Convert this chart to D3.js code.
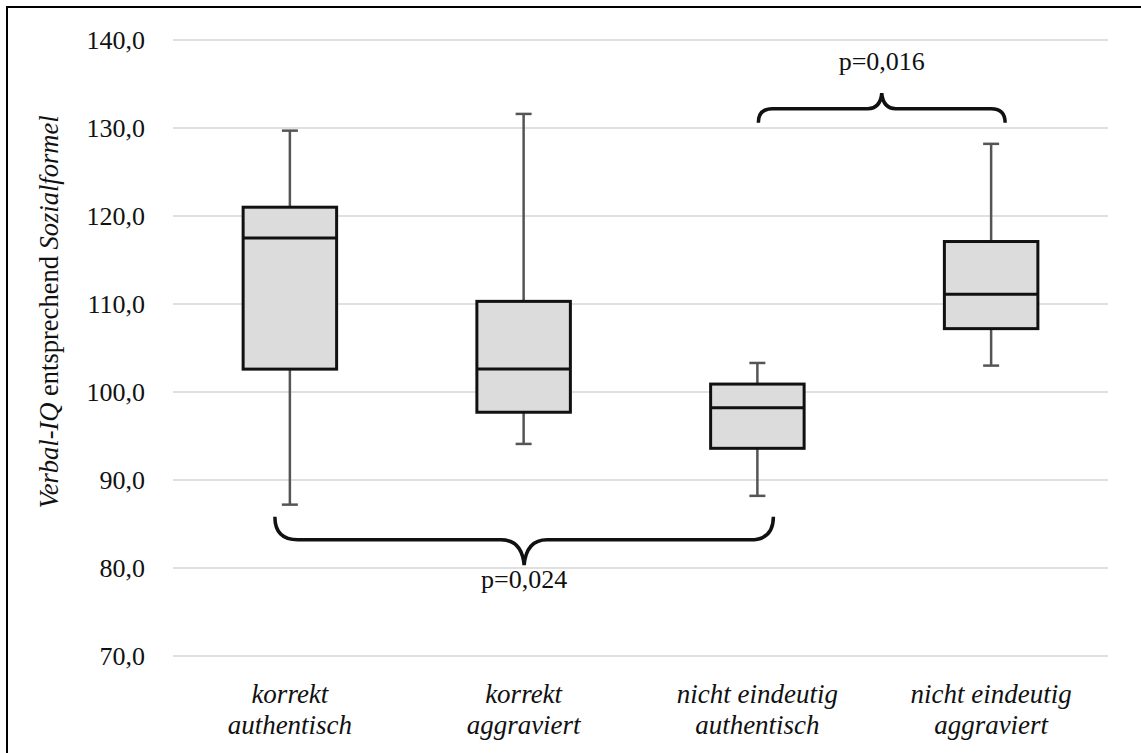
<!DOCTYPE html>
<html>
<head>
<meta charset="utf-8">
<script src="https://cdn.jsdelivr.net/npm/d3@7"></script>
<style>
  body { margin: 0; background: #fff; }
  text { font-family: "Liberation Serif", serif; fill: #111; }
</style>
</head>
<body>
<script>
// data
var categories = [["korrekt", "authentisch"], ["korrekt", "aggraviert"],
  ["nicht eindeutig", "authentisch"], ["nicht eindeutig", "aggraviert"]];
var whiskerLow  = [87.2, 94.1, 88.2, 103.0];
var q1          = [102.6, 97.7, 93.6, 107.2];
var median      = [117.5, 102.6, 98.2, 111.1];
var q3          = [121.0, 110.3, 100.9, 117.1];
var whiskerHigh = [129.7, 131.6, 103.3, 128.2];
var yTicks = [70, 80, 90, 100, 110, 120, 130, 140];

// significance braces: from category, to category, level, label
var braceFrom  = [2, 0];
var braceTo    = [3, 2];
var braceLevel = [132.2, 83.2];
var braceLabel = ["p=0,016", "p=0,024"];

var width = 1141, height = 753;

var svg = d3.select("body").append("svg")
  .attr("width", width)
  .attr("height", height);

// frame (left + top only)
svg.append("line").attr("x1", 7).attr("x2", 7).attr("y1", 6).attr("y2", height)
  .attr("stroke", "#000").attr("stroke-width", 2);
svg.append("line").attr("x1", 6).attr("x2", width).attr("y1", 7).attr("y2", 7)
  .attr("stroke", "#000").attr("stroke-width", 2);

var x = d3.scaleBand()
  .domain(d3.range(categories.length))
  .range([173, 1108])
  .padding(0);

var y = d3.scaleLinear()
  .domain([70, 140])
  .range([656, 40]);

var fmt = function(d) { return d3.format(".1f")(d).replace(".", ","); };

// gridlines
svg.selectAll(".grid")
  .data(yTicks)
  .enter().append("line")
  .attr("class", "grid")
  .attr("x1", 173).attr("x2", 1108)
  .attr("y1", function(d) { return y(d); })
  .attr("y2", function(d) { return y(d); })
  .attr("stroke", "#e0e0e0")
  .attr("stroke-width", 2);

// y axis labels
var yAxis = svg.append("g")
  .attr("transform", "translate(149,0)")
  .call(d3.axisLeft(y).tickValues(yTicks).tickFormat(fmt).tickSize(0).tickPadding(4));
yAxis.select(".domain").remove();
yAxis.selectAll("text")
  .style("font-family", "Liberation Serif, serif")
  .style("font-size", "26px")
  .attr("fill", "#111");

// y title
var yt = svg.append("text")
  .attr("transform", "translate(58,312) rotate(-90)")
  .attr("text-anchor", "middle")
  .style("font-size", "26.5px");
yt.append("tspan").style("font-style", "italic").text("Verbal-IQ");
yt.append("tspan").text(" entsprechend ");
yt.append("tspan").style("font-style", "italic").text("Sozialformel");

// x labels
var xl = svg.selectAll(".xlab")
  .data(categories)
  .enter().append("text")
  .attr("class", "xlab")
  .attr("text-anchor", "middle")
  .style("font-style", "italic")
  .style("font-size", "27px");
xl.each(function(d, i) {
  var t = d3.select(this);
  d.forEach(function(line, j) {
    t.append("tspan")
      .attr("x", x(i) + x.bandwidth() / 2)
      .attr("y", 703 + j * 31)
      .text(line);
  });
});

// boxes
var bw = x.bandwidth() * 0.4;
var cap = 16;
var box = svg.selectAll(".box")
  .data(d3.range(categories.length))
  .enter().append("g")
  .attr("class", "box")
  .attr("transform", function(i) { return "translate(" + (x(i) + x.bandwidth() / 2) + ",0)"; });

// whiskers
box.append("line")
  .attr("x1", 0).attr("x2", 0)
  .attr("y1", function(i) { return y(whiskerHigh[i]); })
  .attr("y2", function(i) { return y(q3[i]); })
  .attr("stroke", "#555").attr("stroke-width", 2.5);
box.append("line")
  .attr("x1", 0).attr("x2", 0)
  .attr("y1", function(i) { return y(q1[i]); })
  .attr("y2", function(i) { return y(whiskerLow[i]); })
  .attr("stroke", "#555").attr("stroke-width", 2.5);
box.append("line")
  .attr("x1", -cap / 2).attr("x2", cap / 2)
  .attr("y1", function(i) { return y(whiskerHigh[i]); })
  .attr("y2", function(i) { return y(whiskerHigh[i]); })
  .attr("stroke", "#555").attr("stroke-width", 2.5);
box.append("line")
  .attr("x1", -cap / 2).attr("x2", cap / 2)
  .attr("y1", function(i) { return y(whiskerLow[i]); })
  .attr("y2", function(i) { return y(whiskerLow[i]); })
  .attr("stroke", "#555").attr("stroke-width", 2.5);

box.append("rect")
  .attr("x", -bw / 2)
  .attr("width", bw)
  .attr("y", function(i) { return y(q3[i]); })
  .attr("height", function(i) { return y(q1[i]) - y(q3[i]); })
  .attr("fill", "#dcdcdc")
  .attr("stroke", "#111")
  .attr("stroke-width", 3);

box.append("line")
  .attr("x1", -bw / 2).attr("x2", bw / 2)
  .attr("y1", function(i) { return y(median[i]); })
  .attr("y2", function(i) { return y(median[i]); })
  .attr("stroke", "#111").attr("stroke-width", 3);

// braces
braceLabel.forEach(function(label, k) {
  var up = braceLevel[k] > 120; // tip pointing up for the top brace
  var dir = up ? -1 : 1;
  var s = up ? 14 : 23;          // brace size
  var x1 = x(braceFrom[k]) + x.bandwidth() / 2 + (up ? 1 : -15);
  var x2 = x(braceTo[k]) + x.bandwidth() / 2 + (up ? 14 : 16);
  var xm = (x1 + x2) / 2;
  var yl = y(braceLevel[k]);
  var yEnd = yl - dir * s;
  var yTip = yl + dir * s * 1.1;
  var r = s;

  var p = d3.path();
  p.moveTo(x1, yEnd);
  p.quadraticCurveTo(x1, yl, x1 + r, yl);
  p.lineTo(xm - r, yl);
  p.quadraticCurveTo(xm - s * 0.1, yl, xm, yTip);
  p.quadraticCurveTo(xm + s * 0.1, yl, xm + r, yl);
  p.lineTo(x2 - r, yl);
  p.quadraticCurveTo(x2, yl, x2, yEnd);

  svg.append("path")
    .attr("d", p.toString())
    .attr("fill", "none")
    .attr("stroke", "#111")
    .attr("stroke-width", 3.5);

  svg.append("text")
    .attr("x", xm)
    .attr("y", up ? yTip - 23 : yTip + 23)
    .attr("text-anchor", "middle")
    .style("font-size", "26px")
    .text(label);
});
</script>
</body>
</html>
